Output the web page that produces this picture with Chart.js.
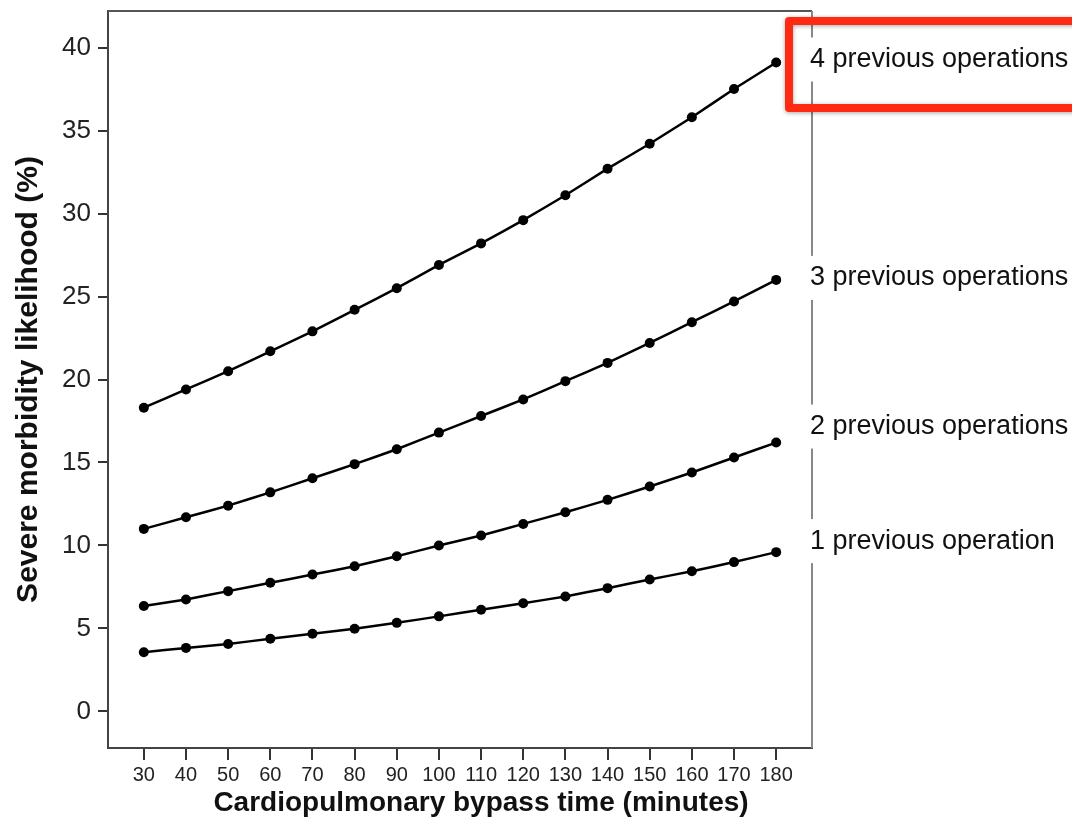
<!DOCTYPE html>
<html>
<head>
<meta charset="utf-8">
<style>
  html, body { margin: 0; padding: 0; background: #fff; }
  #wrap { width: 1072px; height: 819px; }
</style>
</head>
<body>
<div id="wrap"><canvas id="morbidityChart" width="1072" height="819"></canvas></div>

<script src="https://cdn.jsdelivr.net/npm/chart.js"></script>
<script>
  (() => {
  // bypass time (minutes)
  const minutes = [30, 40, 50, 60, 70, 80, 90, 100, 110, 120, 130, 140, 150, 160, 170, 180];

  // severe morbidity likelihood (%) per number of previous operations
  const ops1 = [3.57, 3.83, 4.07, 4.38, 4.68, 4.98, 5.34, 5.73, 6.13, 6.52, 6.93, 7.43, 7.95, 8.45, 9.0, 9.6];
  const ops2 = [6.35, 6.75, 7.25, 7.75, 8.25, 8.75, 9.35, 10.0, 10.6, 11.3, 12.0, 12.75, 13.55, 14.4, 15.3, 16.2];
  const ops3 = [11.0, 11.7, 12.4, 13.2, 14.05, 14.9, 15.8, 16.8, 17.8, 18.8, 19.9, 21.0, 22.2, 23.45, 24.7, 26.0];
  const ops4 = [18.3, 19.4, 20.5, 21.7, 22.9, 24.2, 25.5, 26.9, 28.2, 29.6, 31.1, 32.7, 34.2, 35.8, 37.5, 39.1];

  const seriesNames = ["1 previous operation", "2 previous operations", "3 previous operations", "4 previous operations"];
  const xTicks = [30, 40, 50, 60, 70, 80, 90, 100, 110, 120, 130, 140, 150, 160, 170, 180];
  const yTicks = [0, 5, 10, 15, 20, 25, 30, 35, 40];

  const xTitle = "Cardiopulmonary bypass time (minutes)";
  const yTitle = "Severe morbidity likelihood (%)";

  // small vertical nudges (px) of the end labels relative to the last point
  const labelNudge = [-11, -16, -2, -3];

  const FONT = "'Liberation Sans', Arial, Helvetica, sans-serif";

  const seriesValues = [ops1, ops2, ops3, ops4];
  const datasets = seriesValues.map((vals, i) => ({
    label: seriesNames[i],
    data: minutes.map((m, j) => ({ x: m, y: vals[j] })),
    borderColor: '#000',
    backgroundColor: '#000',
    borderWidth: 2.5,
    pointRadius: 5,
    pointBorderWidth: 0,
    pointBackgroundColor: '#000',
    tension: 0.1,
    fill: false
  }));

  // frame, end labels, x title and the red highlight box
  const decorations = {
    id: 'decorations',
    afterDatasetsDraw(chart) {
      const ctx = chart.ctx;
      const a = chart.chartArea;
      ctx.save();
      // top + right frame
      ctx.strokeStyle = '#555';
      ctx.lineWidth = 2;
      ctx.beginPath();
      ctx.moveTo(a.left, a.top);
      ctx.lineTo(a.right, a.top);
      ctx.stroke();
      ctx.strokeStyle = '#888';
      ctx.beginPath();
      ctx.moveTo(a.right, a.top);
      ctx.lineTo(a.right, a.bottom);
      ctx.stroke();

      // end labels with white boxes breaking the right frame
      ctx.font = '27px ' + FONT;
      ctx.textBaseline = 'middle';
      ctx.textAlign = 'left';
      chart.data.datasets.forEach((ds, i) => {
        const meta = chart.getDatasetMeta(i);
        const last = meta.data[meta.data.length - 1];
        const y = last.y + labelNudge[i];
        const w = ctx.measureText(ds.label).width;
        ctx.fillStyle = '#fff';
        ctx.fillRect(a.right - 4, y - 22, w + 10, 44);
        ctx.fillStyle = '#111';
        ctx.fillText(ds.label, a.right - 2, y);
      });

      // x axis title
      ctx.font = 'bold 28px ' + FONT;
      ctx.textAlign = 'center';
      ctx.textBaseline = 'middle';
      ctx.fillStyle = '#111';
      ctx.fillText(xTitle, 481, 803);

      // red highlight box round the top label
      ctx.strokeStyle = '#ff2a12';
      ctx.lineWidth = 8;
      ctx.lineJoin = 'round';
      ctx.shadowColor = 'rgba(0,0,0,0.35)';
      ctx.shadowBlur = 4;
      ctx.shadowOffsetY = 1;
      ctx.strokeRect(789, 21, 300, 87);
      ctx.restore();
    }
  };

  const ctx = document.getElementById('morbidityChart').getContext('2d');
  new Chart(ctx, {
    type: 'line',
    data: { datasets: datasets },
    options: {
      responsive: false,
      animation: false,
      events: [],
      layout: { padding: { top: 11, right: 260, left: 0, bottom: 0 } },
      plugins: {
        legend: { display: false },
        tooltip: { enabled: false }
      },
      scales: {
        x: {
          type: 'linear',
          min: 21.5,
          max: 188.5,
          afterFit(scale) { scale.height = 71; scale.paddingLeft = 0; scale.paddingRight = 0; },
          afterBuildTicks(scale) { scale.ticks = xTicks.map(v => ({ value: v })); },
          grid: { drawOnChartArea: false, drawTicks: true, tickLength: 12, color: '#333', lineWidth: 2 },
          border: { display: true, color: '#444', width: 2 },
          ticks: { color: '#222', padding: 3, maxRotation: 0, autoSkip: false, font: { family: FONT, size: 20 } },
          title: { display: false }
        },
        y: {
          min: -2.2,
          max: 42.2,
          afterFit(scale) { scale.width = 108; scale.paddingTop = 0; scale.paddingBottom = 0; },
          afterBuildTicks(scale) { scale.ticks = yTicks.map(v => ({ value: v })); },
          grid: { drawOnChartArea: false, drawTicks: true, tickLength: 10, color: '#333', lineWidth: 2 },
          border: { display: true, color: '#444', width: 2 },
          ticks: { color: '#222', padding: 7, font: { family: FONT, size: 26 } },
          title: {
            display: true,
            text: yTitle,
            color: '#111',
            padding: { top: 11, bottom: 0 },
            font: { family: FONT, size: 30, weight: 'bold' }
          }
        }
      }
    },
    plugins: [decorations]
  });
  })();
</script>
</body>
</html>
